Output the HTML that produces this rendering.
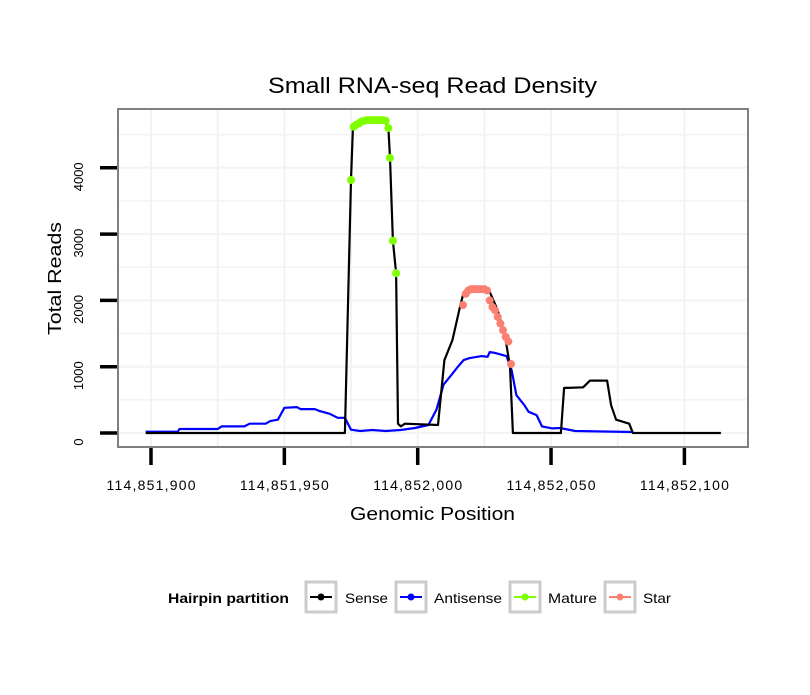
<!DOCTYPE html>
<html><head><meta charset="utf-8"><style>
body{margin:0;background:#fff;}
svg text{font-family:"Liberation Sans",sans-serif;}
</style></head><body>
<svg id="chart" width="810" height="690" xmlns="http://www.w3.org/2000/svg">
<rect width="810" height="690" fill="#fff"/>
<text x="268" y="93" font-size="22" textLength="329" lengthAdjust="spacingAndGlyphs">Small RNA-seq Read Density</text>
<g id="grid"></g>
<g id="series"></g>
<rect x="118" y="109" width="630" height="338" fill="none" stroke="#808080" stroke-width="2"/>
<g id="axes"></g>
<text x="350" y="520" font-size="18" textLength="165" lengthAdjust="spacingAndGlyphs">Genomic Position</text>
<text transform="translate(61,335) rotate(-90)" font-size="18" textLength="113" lengthAdjust="spacingAndGlyphs">Total Reads</text>
<g>
<text x="168" y="603" font-size="14" font-weight="bold" textLength="121" lengthAdjust="spacingAndGlyphs">Hairpin partition</text>
<g><rect x="306" y="582" width="30" height="30" fill="#fff" stroke="#ccc" stroke-width="3"/><line x1="310" y1="597" x2="332" y2="597" stroke="#000" stroke-width="2"/><circle cx="321" cy="597" r="3.5" fill="#000"/><text x="345" y="603" font-size="14" textLength="43" lengthAdjust="spacingAndGlyphs">Sense</text></g>
<g><rect x="396" y="582" width="30" height="30" fill="#fff" stroke="#ccc" stroke-width="3"/><line x1="400" y1="597" x2="422" y2="597" stroke="#00f" stroke-width="2"/><circle cx="411" cy="597" r="3.5" fill="#00f"/><text x="434" y="603" font-size="14" textLength="68" lengthAdjust="spacingAndGlyphs">Antisense</text></g>
<g><rect x="510" y="582" width="30" height="30" fill="#fff" stroke="#ccc" stroke-width="3"/><line x1="514" y1="597" x2="536" y2="597" stroke="#7fff00" stroke-width="2"/><circle cx="525" cy="597" r="3.5" fill="#7fff00"/><text x="548" y="603" font-size="14" textLength="49" lengthAdjust="spacingAndGlyphs">Mature</text></g>
<g><rect x="605" y="582" width="30" height="30" fill="#fff" stroke="#ccc" stroke-width="3"/><line x1="609" y1="597" x2="631" y2="597" stroke="#fa8072" stroke-width="2"/><circle cx="620" cy="597" r="3.5" fill="#fa8072"/><text x="643" y="603" font-size="14" textLength="28" lengthAdjust="spacingAndGlyphs">Star</text></g>
</g>
</svg>
<script>
const BASE = 114851900;
const xTicks = [114851900, 114851950, 114852000, 114852050, 114852100];
const xTickLabels = ["114,851,900","114,851,950","114,852,000","114,852,050","114,852,100"];
const yTicks = [0,1000,2000,3000,4000];
const yTickLabels = ["0","1000","2000","3000","4000"];
// positions are offsets from BASE
const sensePos = [-2,72.7,75,75.7,78.4,83,88,89,89.6,90.7,91.9,92.6,93.7,95.2,107.6,110,113,116,117,118.3,126,127,130,133,134.6,135.7,153.7,154.9,156.4,162,164.6,171,172.5,174.4,179.3,180.7,213.7];
const senseVal = [0,0,3816,4600,4660,4700,4690,4600,4150,2900,2410,140,100,140,120,1100,1400,1930,2080,2150,2180,2130,1850,1400,1000,0,0,680,680,690,790,790,420,200,140,0,0];
const antiPos = [-2,10,10.7,25,26.5,35,37,43,44.7,47.6,50,54.7,56,61.4,63.3,67,70,72.7,75,78.4,83,88,93.6,99,104,107,109.7,112.7,115.3,117.2,119.5,124,126.2,127,128.8,133.3,135.2,137,140,141.6,144.6,146.6,150.5,153.4,159,180.4];
const antiVal = [20,20,60,60,100,100,140,140,180,200,380,390,360,360,330,290,230,230,50,30,45,30,45,75,120,350,730,880,1010,1100,1130,1160,1150,1220,1210,1160,950,570,420,320,270,100,70,75,30,15];
const maturePos = [75,76,77,78,79,80,81,82,83,84,85,86,87,88,89,89.6,90.7,91.9];
const matureVal = [3816,4620,4650,4670,4700,4710,4720,4720,4720,4720,4720,4720,4720,4710,4600,4150,2900,2410];
const starPos = [117,118,119,120,121,122,123,124,125,126,127,128,129,130,131,132,133,134,135];
const starVal = [1930,2100,2150,2170,2170,2170,2170,2170,2170,2150,2000,1900,1850,1750,1650,1550,1450,1380,1040];

const NS="http://www.w3.org/2000/svg";
function xs(p){return 151 + (p)*2.667;}
function xa(v){return xs(v-BASE);}
function ys(v){return 433 - v*0.0663;}
function mk(tag, attrs, parent){const e=document.createElementNS(NS,tag);for(const k in attrs)e.setAttribute(k,attrs[k]);parent.appendChild(e);return e;}
const grid=document.getElementById('grid'), series=document.getElementById('series'), axes=document.getElementById('axes');
mk('rect',{x:118,y:109,width:630,height:338,fill:'#fff'},grid);
for(let v=-500; v<=5000; v+=500){const y=ys(v); if(y<110||y>446) continue;
  const l=mk('line',{x1:119,x2:747,y1:y,y2:y,stroke:'#f3f3f3','stroke-width':v%1000===0?2:1.5},grid);
  
  }
for(let p=BASE-25; p<=BASE+225; p+=25){const x=xa(p); if(x<119||x>747) continue;
  const l=mk('line',{x1:x,x2:x,y1:110,y2:446,stroke:'#f3f3f3','stroke-width':2},grid);
  
  }
function line(pos,val,color,name){
  const d=pos.map((p,i)=>(i?'L':'M')+xs(p).toFixed(1)+','+ys(val[i]).toFixed(1)).join(' ');
  const e=mk('path',{d:d,fill:'none',stroke:color,'stroke-width':2.2,'stroke-linejoin':'round'},series);
  
  
}
line(antiPos,antiVal,'#0000ff','antisense-line');
line(sensePos,senseVal,'#000000','sense-line');
function pts(pos,val,color,name){
  pos.forEach((p,i)=>{const c=mk('circle',{cx:xs(p),cy:ys(val[i]),r:4,fill:color},series);
    
    });
}
pts(maturePos,matureVal,'#7fff00','mature-point');
pts(starPos,starVal,'#fa8072','star-point');
xTicks.forEach((t,i)=>{const x=xa(t);
  const l=mk('line',{x1:x,x2:x,y1:448,y2:465,stroke:'#000','stroke-width':3.5},axes);
  
  
  const tx=mk('text',{x:x-44.5,y:490,'font-size':14,textLength:89,lengthAdjust:'spacing'},axes);tx.textContent=xTickLabels[i];
  
  });
yTicks.forEach((t,i)=>{const y=ys(t)+9;
  const l=mk('line',{x1:100,x2:117,y1:ys(t),y2:ys(t),stroke:'#000','stroke-width':3.5},axes);
  
  
  const tx=mk('text',{transform:'translate(83,'+y+') rotate(-90)','font-size':13,'text-anchor':'middle'},axes);tx.textContent=yTickLabels[i];
  
  });
</script>
</body></html>
